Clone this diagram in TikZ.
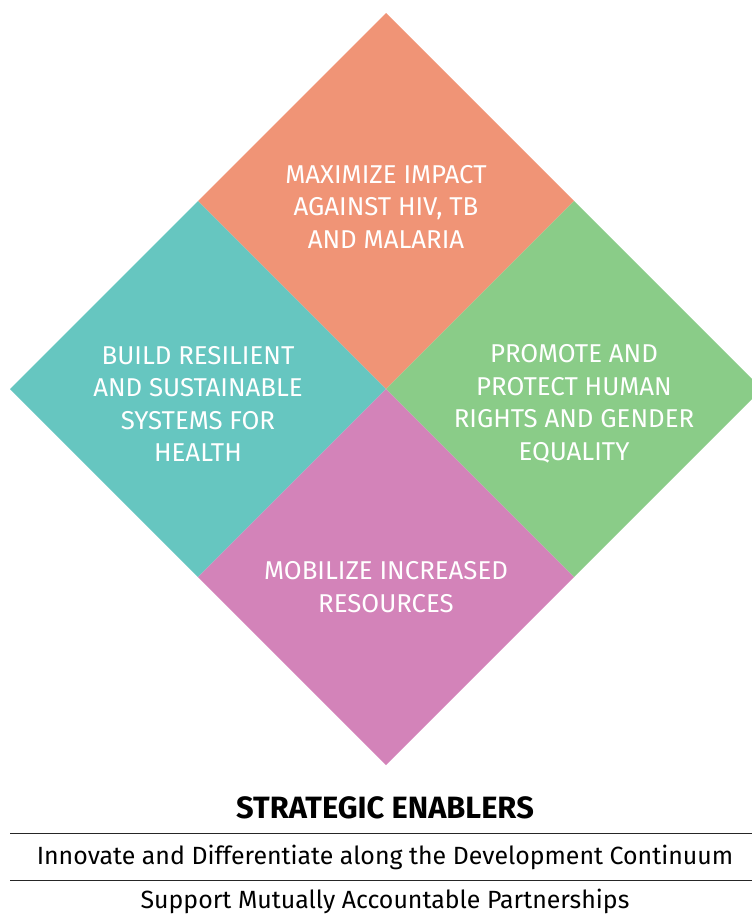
\documentclass[tikz,border=0pt]{standalone}
\usepackage{fontspec}
\setmainfont{Fira Sans}
\definecolor{cOrange}{RGB}{240,148,118}
\definecolor{cTeal}{RGB}{102,198,192}
\definecolor{cGreen}{RGB}{138,204,136}
\definecolor{cPink}{RGB}{211,131,185}
\begin{document}
\begin{tikzpicture}[x=1pt,y=-1pt,
  qtext/.style={text=white,align=center,font=\fontsize{25.8}{32.5}\selectfont,inner sep=0pt},
  btext/.style={text=black,font=\fontsize{24.9}{28}\selectfont,inner sep=0pt,anchor=center},
  rule/.style={draw=black!85,line width=0.9pt}]
\useasboundingbox (0,0) rectangle (752,919);
\clip (0,0) rectangle (752,919);
\coordinate (T) at (386,13);
\coordinate (L) at (10,389);
\coordinate (R) at (762,389);
\coordinate (B) at (386,765);
\coordinate (C) at (386,389);
\coordinate (TL) at (198,201);
\coordinate (TR) at (574,201);
\coordinate (BL) at (198,577);
\coordinate (BR) at (574,577);
\fill[cOrange] (T) -- (TR) -- (C) -- (TL) -- cycle;
\fill[cTeal] (TL) -- (C) -- (BL) -- (L) -- cycle;
\fill[cGreen] (TR) -- (R) -- (BR) -- (C) -- cycle;
\fill[cPink] (C) -- (BR) -- (B) -- (BL) -- cycle;
\node[qtext] (top) at (386,206.5) {MAXIMIZE IMPACT\\AGAINST HIV, TB\\AND MALARIA};
\node[qtext] (left) at (198,404) {BUILD RESILIENT\\AND SUSTAINABLE\\SYSTEMS FOR\\HEALTH};
\node[qtext] (right) at (574,404) {PROMOTE AND\\PROTECT HUMAN\\RIGHTS AND GENDER\\EQUALITY};
\node[qtext] (bottom) at (386,587) {MOBILIZE INCREASED\\RESOURCES};
\node[btext,font=\fontsize{30.8}{32}\selectfont\bfseries] (se) at (385,808) {STRATEGIC ENABLERS};
\coordinate (l1a) at (10,833);
\coordinate (l1b) at (752,833);
\coordinate (l2a) at (10,880);
\coordinate (l2b) at (752,880);
\draw[rule] (l1a) -- (l1b);
\draw[rule] (l2a) -- (l2b);
\node[btext] (e1) at (385,857) {Innovate and Differentiate along the Development Continuum};
\node[btext] (e2) at (385,901) {Support Mutually Accountable Partnerships};
\end{tikzpicture}
\end{document}
